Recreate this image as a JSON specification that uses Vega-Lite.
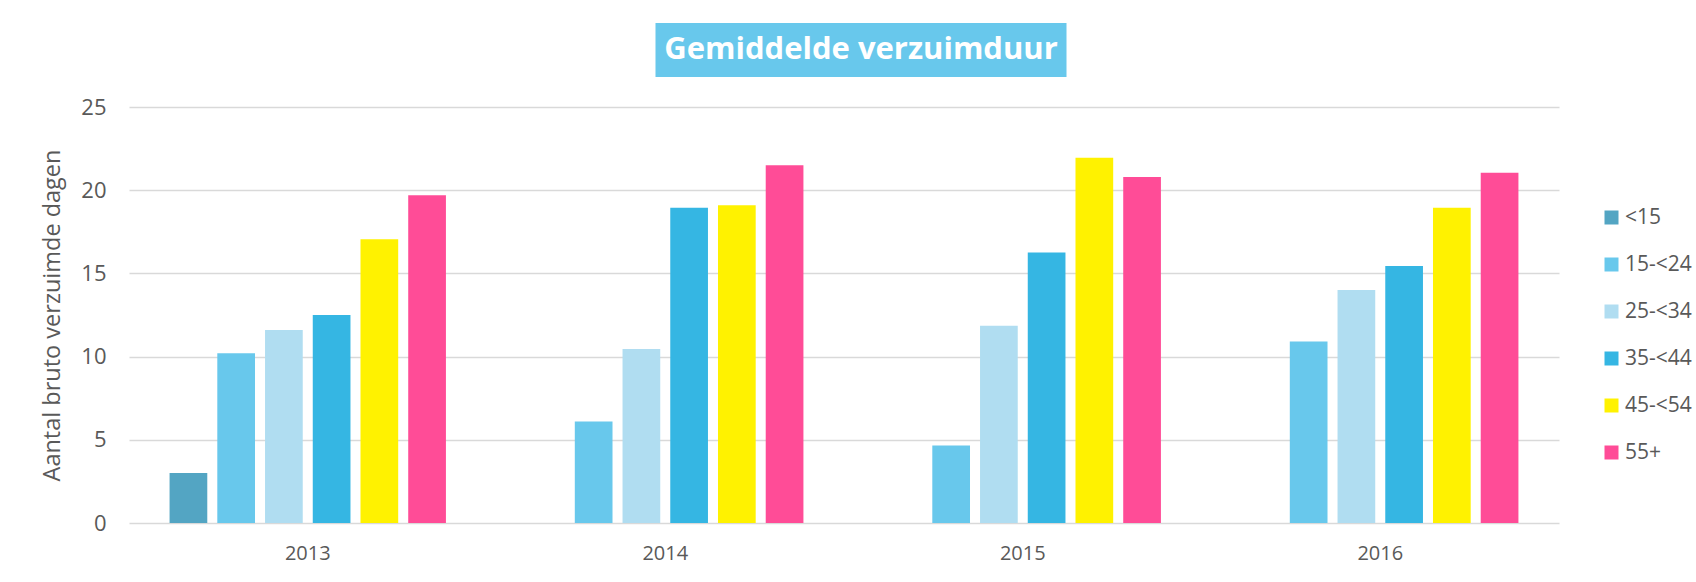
{
  "$schema": "https://vega.github.io/schema/vega-lite/v6.json",
  "padding": {"left": 40, "top": 23, "right": 0, "bottom": 0},
  "background": "white",
  "config": {"font": "Open Sans", "view": {"stroke": null}},
  "center": true,
  "spacing": 19,
  "vconcat": [
    {
      "spacing": 0,
      "hconcat": [
        {
          "width": 34,
          "height": 54,
          "data": {"values": []},
          "mark": {"type": "text"},
          "encoding": {"text": {"field": "t", "type": "nominal"}}
        },
        {
          "width": 411,
          "height": 54,
          "view": {"fill": "#68C8EC", "stroke": null},
          "data": {"values": [{"t": "Gemiddelde verzuimduur"}]},
          "mark": {"type": "text", "font": "Open Sans", "fontWeight": "bold", "fontSize": 31, "color": "white"},
          "encoding": {"text": {"field": "t", "type": "nominal"}}
        }
      ]
    },
    {
      "width": 1430,
      "height": 416,
      "data": {
        "values": [
          {"jaar": "2013", "leeftijd": "<15", "dagen": 3.0},
          {"jaar": "2013", "leeftijd": "15-<24", "dagen": 10.2},
          {"jaar": "2013", "leeftijd": "25-<34", "dagen": 11.6},
          {"jaar": "2013", "leeftijd": "35-<44", "dagen": 12.5},
          {"jaar": "2013", "leeftijd": "45-<54", "dagen": 17.05},
          {"jaar": "2013", "leeftijd": "55+", "dagen": 19.7},
          {"jaar": "2014", "leeftijd": "15-<24", "dagen": 6.1},
          {"jaar": "2014", "leeftijd": "25-<34", "dagen": 10.45},
          {"jaar": "2014", "leeftijd": "35-<44", "dagen": 18.95},
          {"jaar": "2014", "leeftijd": "45-<54", "dagen": 19.1},
          {"jaar": "2014", "leeftijd": "55+", "dagen": 21.5},
          {"jaar": "2015", "leeftijd": "15-<24", "dagen": 4.65},
          {"jaar": "2015", "leeftijd": "25-<34", "dagen": 11.85},
          {"jaar": "2015", "leeftijd": "35-<44", "dagen": 16.25},
          {"jaar": "2015", "leeftijd": "45-<54", "dagen": 21.95},
          {"jaar": "2015", "leeftijd": "55+", "dagen": 20.8},
          {"jaar": "2016", "leeftijd": "15-<24", "dagen": 10.9},
          {"jaar": "2016", "leeftijd": "25-<34", "dagen": 14.0},
          {"jaar": "2016", "leeftijd": "35-<44", "dagen": 15.45},
          {"jaar": "2016", "leeftijd": "45-<54", "dagen": 18.95},
          {"jaar": "2016", "leeftijd": "55+", "dagen": 21.05}
        ]
      },
      "mark": {"type": "bar"},
      "encoding": {
        "x": {
          "field": "jaar",
          "type": "nominal",
          "scale": {"paddingInner": 0, "paddingOuter": 0},
          "axis": {"title": null, "labelAngle": 0, "ticks": false, "domain": false, "labelFontSize": 20, "labelColor": "#595959", "labelPadding": 20}
        },
        "xOffset": {
          "field": "leeftijd",
          "type": "nominal",
          "scale": {"domain": ["<15", "15-<24", "25-<34", "35-<44", "45-<54", "55+"], "paddingInner": 0.21, "paddingOuter": 0.85}
        },
        "y": {
          "field": "dagen",
          "type": "quantitative",
          "scale": {"domain": [0, 25], "nice": false},
          "axis": {"title": "Aantal bruto verzuimde dagen", "titleFontSize": 23.5, "titleFontWeight": "normal", "titleColor": "#595959", "titlePadding": 16, "values": [0, 5, 10, 15, 20, 25], "ticks": false, "domain": false, "labelFontSize": 22, "labelColor": "#595959", "labelPadding": 23, "gridColor": "#D9D9D9", "gridWidth": 1.5}
        },
        "color": {
          "field": "leeftijd",
          "type": "nominal",
          "scale": {"domain": ["<15", "15-<24", "25-<34", "35-<44", "45-<54", "55+"], "range": ["#53A5C3", "#68C8EC", "#B0DDF1", "#35B6E3", "#FFF200", "#FF4C97"]},
          "legend": {"orient": "none", "legendX": 1472, "legendY": 184, "title": null, "symbolType": "square", "symbolSize": 196, "symbolStrokeWidth": 0, "symbolOpacity": 1, "labelFontSize": 21, "labelColor": "#595959", "rowPadding": 25, "labelOffset": 3}
        }
      }
    }
  ]
}
